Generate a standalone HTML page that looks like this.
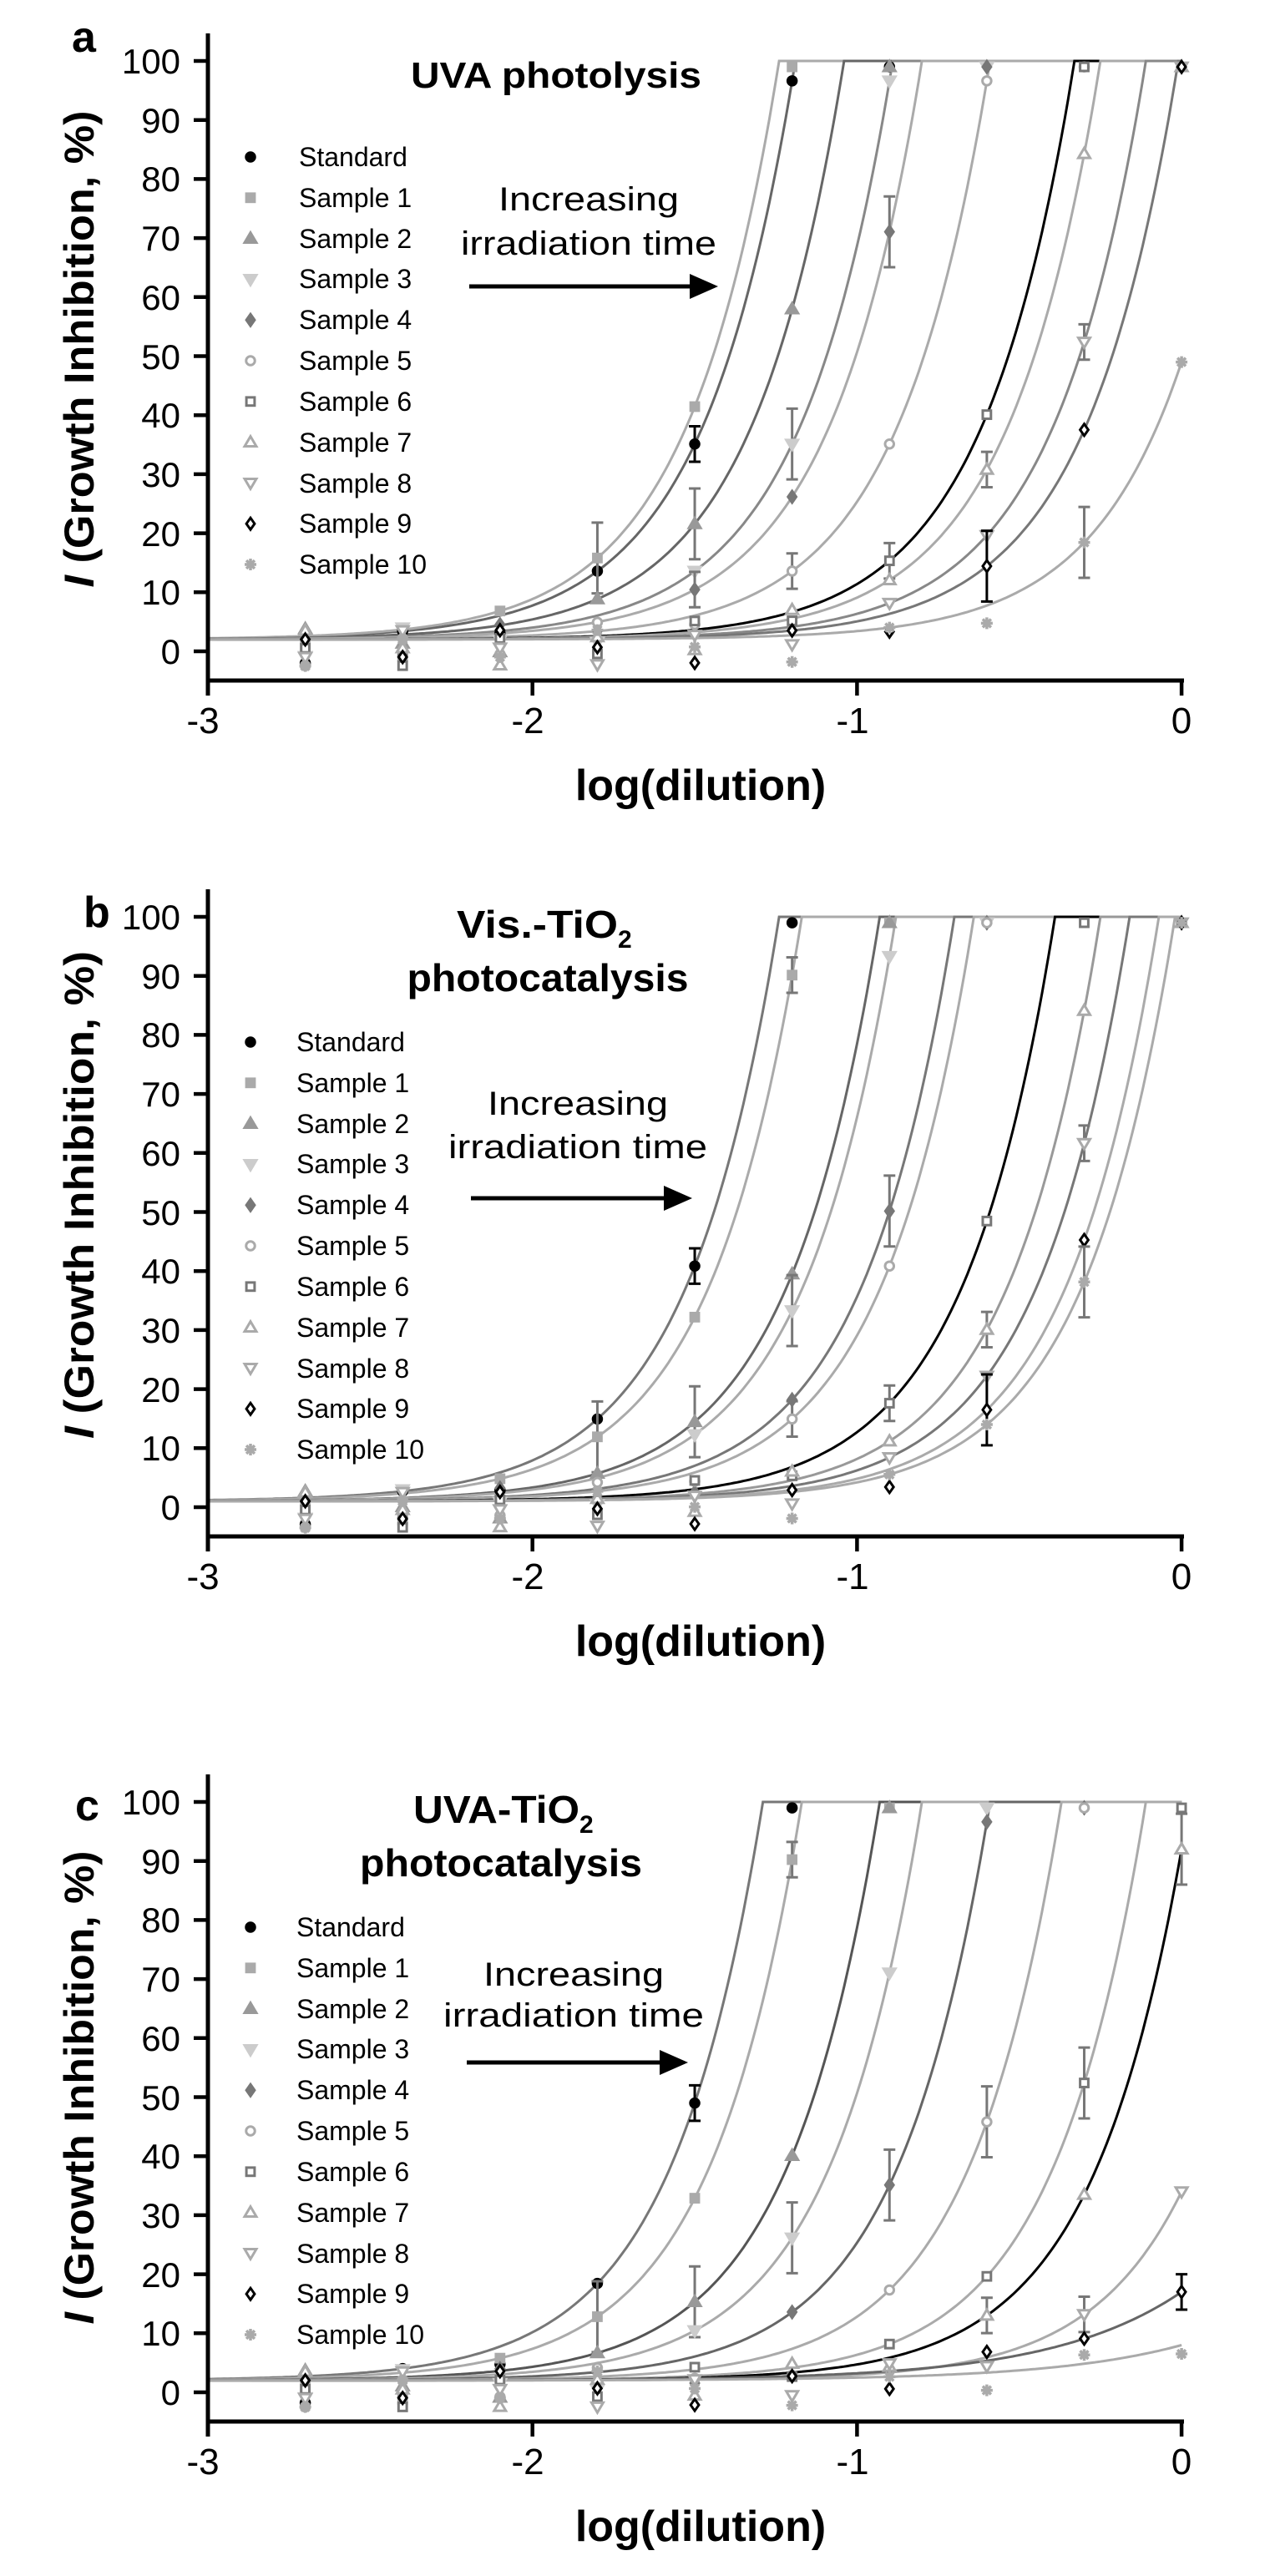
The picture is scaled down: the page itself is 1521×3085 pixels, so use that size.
<!DOCTYPE html>
<html><head><meta charset="utf-8"><style>
html,body{margin:0;padding:0;background:#fff;}
svg{display:block;}
text{font-family:"Liberation Sans",Arial,sans-serif;}
</style></head><body>
<svg id="s" width="1521" height="3085" viewBox="0 0 1521 3085" xmlns="http://www.w3.org/2000/svg">
<rect width="1521" height="3085" fill="#fff"/>
<g id="plots"></g>
<!-- Panel a texts -->
<g>
<text x="86" y="62" font-size="52" font-weight="bold">a</text>
<text x="492" y="105" font-size="44" font-weight="bold" textLength="348" lengthAdjust="spacingAndGlyphs">UVA photolysis</text>
<text x="705" y="252" font-size="40" text-anchor="middle" textLength="216" lengthAdjust="spacingAndGlyphs">Increasing</text>
<text x="705" y="305" font-size="40" text-anchor="middle" textLength="306" lengthAdjust="spacingAndGlyphs">irradiation time</text>
<text transform="translate(112,418) rotate(-90)" font-size="50" font-weight="bold" text-anchor="middle" textLength="571" lengthAdjust="spacingAndGlyphs"><tspan font-style="italic">I</tspan> (Growth Inhibition, %)</text>
<text x="839" y="958" font-size="52" font-weight="bold" text-anchor="middle">log(dilution)</text>
</g>
<!-- Panel b texts -->
<g>
<text x="100" y="1110" font-size="52" font-weight="bold">b</text>
<text x="547" y="1123" font-size="46" font-weight="bold" textLength="193" lengthAdjust="spacingAndGlyphs">Vis.-TiO</text>
<text x="740" y="1135" font-size="30" font-weight="bold">2</text>
<text x="656" y="1187" font-size="46" font-weight="bold" text-anchor="middle" textLength="337" lengthAdjust="spacingAndGlyphs">photocatalysis</text>
<text x="692" y="1335" font-size="40" text-anchor="middle" textLength="216" lengthAdjust="spacingAndGlyphs">Increasing</text>
<text x="692" y="1387" font-size="40" text-anchor="middle" textLength="310" lengthAdjust="spacingAndGlyphs">irradiation time</text>
<text transform="translate(112,1431) rotate(-90)" font-size="50" font-weight="bold" text-anchor="middle" textLength="584" lengthAdjust="spacingAndGlyphs"><tspan font-style="italic">I</tspan> (Growth Inhibition, %)</text>
<text x="839" y="1983" font-size="52" font-weight="bold" text-anchor="middle">log(dilution)</text>
</g>
<!-- Panel c texts -->
<g>
<text x="90" y="2180" font-size="52" font-weight="bold">c</text>
<text x="495" y="2183" font-size="46" font-weight="bold" textLength="199" lengthAdjust="spacingAndGlyphs">UVA-TiO</text>
<text x="694" y="2195" font-size="30" font-weight="bold">2</text>
<text x="600" y="2247" font-size="46" font-weight="bold" text-anchor="middle" textLength="338" lengthAdjust="spacingAndGlyphs">photocatalysis</text>
<text x="687" y="2378" font-size="40" text-anchor="middle" textLength="216" lengthAdjust="spacingAndGlyphs">Increasing</text>
<text x="687" y="2427" font-size="40" text-anchor="middle" textLength="312" lengthAdjust="spacingAndGlyphs">irradiation time</text>
<text transform="translate(112,2500) rotate(-90)" font-size="50" font-weight="bold" text-anchor="middle" textLength="567" lengthAdjust="spacingAndGlyphs"><tspan font-style="italic">I</tspan> (Growth Inhibition, %)</text>
<text x="839" y="3043" font-size="52" font-weight="bold" text-anchor="middle">log(dilution)</text>
</g>
<!-- tick labels (static) -->
<g font-size="42" text-anchor="end">
<text x="216" y="88">100</text><text x="216" y="159">90</text><text x="216" y="229">80</text><text x="216" y="300">70</text><text x="216" y="371">60</text><text x="216" y="442">50</text><text x="216" y="512">40</text><text x="216" y="583">30</text><text x="216" y="654">20</text><text x="216" y="724">10</text><text x="216" y="795">0</text>
<text x="216" y="1113">100</text><text x="216" y="1184">90</text><text x="216" y="1254">80</text><text x="216" y="1325">70</text><text x="216" y="1396">60</text><text x="216" y="1467">50</text><text x="216" y="1537">40</text><text x="216" y="1608">30</text><text x="216" y="1679">20</text><text x="216" y="1749">10</text><text x="216" y="1820">0</text>
<text x="216" y="2173">100</text><text x="216" y="2244">90</text><text x="216" y="2314">80</text><text x="216" y="2385">70</text><text x="216" y="2456">60</text><text x="216" y="2527">50</text><text x="216" y="2597">40</text><text x="216" y="2668">30</text><text x="216" y="2739">20</text><text x="216" y="2809">10</text><text x="216" y="2880">0</text>
</g>
<g font-size="44" text-anchor="middle">
<text x="243" y="878">-3</text><text x="632" y="878">-2</text><text x="1021" y="878">-1</text><text x="1415" y="878">0</text>
<text x="243" y="1903">-3</text><text x="632" y="1903">-2</text><text x="1021" y="1903">-1</text><text x="1415" y="1903">0</text>
<text x="243" y="2963">-3</text><text x="632" y="2963">-2</text><text x="1021" y="2963">-1</text><text x="1415" y="2963">0</text>
</g>
<!-- legends -->
<g font-size="32">
<text x="358" y="199">Standard</text><text x="358" y="248">Sample 1</text><text x="358" y="297">Sample 2</text><text x="358" y="345">Sample 3</text><text x="358" y="394">Sample 4</text><text x="358" y="443">Sample 5</text><text x="358" y="492">Sample 6</text><text x="358" y="541">Sample 7</text><text x="358" y="590">Sample 8</text><text x="358" y="638">Sample 9</text><text x="358" y="687">Sample 10</text>
<text x="355" y="1259">Standard</text><text x="355" y="1308">Sample 1</text><text x="355" y="1357">Sample 2</text><text x="355" y="1405">Sample 3</text><text x="355" y="1454">Sample 4</text><text x="355" y="1503">Sample 5</text><text x="355" y="1552">Sample 6</text><text x="355" y="1601">Sample 7</text><text x="355" y="1650">Sample 8</text><text x="355" y="1698">Sample 9</text><text x="355" y="1747">Sample 10</text>
<text x="355" y="2319">Standard</text><text x="355" y="2368">Sample 1</text><text x="355" y="2417">Sample 2</text><text x="355" y="2465">Sample 3</text><text x="355" y="2514">Sample 4</text><text x="355" y="2563">Sample 5</text><text x="355" y="2612">Sample 6</text><text x="355" y="2661">Sample 7</text><text x="355" y="2710">Sample 8</text><text x="355" y="2758">Sample 9</text><text x="355" y="2807">Sample 10</text>
</g>
</svg>
<script>
(function(){
var NS="http://www.w3.org/2000/svg";
var G=document.getElementById("plots");
function el(t,a){var e=document.createElementNS(NS,t);for(var k in a)e.setAttribute(k,a[k]);G.appendChild(e);return e;}
var MK=[
 {t:'circle',f:1,c:'#000'},{t:'square',f:1,c:'#aaa'},{t:'tri',f:1,c:'#999'},{t:'dtri',f:1,c:'#ccc'},
 {t:'diam',f:1,c:'#777'},{t:'circle',f:0,c:'#aaa'},{t:'square',f:0,c:'#777'},{t:'tri',f:0,c:'#aaa'},
 {t:'dtri',f:0,c:'#aaa'},{t:'diam',f:0,c:'#000'},{t:'star',f:0,c:'#aaa'}];
function marker(m,x,y,s){
 var fill=m.f?m.c:'#fff', st={stroke:m.c,'stroke-width':3,fill:fill};
 var p;
 if(m.t=='circle'){st.cx=x;st.cy=y;st.r=s*0.75;el('circle',st);return;}
 if(m.t=='square'){st.x=x-s*0.7;st.y=y-s*0.7;st.width=s*1.4;st.height=s*1.4;el('rect',st);return;}
 if(m.t=='tri')p=[[x,y-s],[x+s,y+s*0.7],[x-s,y+s*0.7]];
 if(m.t=='dtri')p=[[x,y+s],[x+s,y-s*0.7],[x-s,y-s*0.7]];
 if(m.t=='diam')p=[[x,y-s],[x+s*0.7,y],[x,y+s],[x-s*0.7,y]];
 if(m.t=='star'){var d='';for(var i=0;i<4;i++){var a=i*Math.PI/4;d+='M'+(x-s*Math.cos(a))+' '+(y-s*Math.sin(a))+'L'+(x+s*Math.cos(a))+' '+(y+s*Math.sin(a));}
   el('path',{d:d,stroke:m.c,'stroke-width':3.5,fill:'none'});return;}
 st.points=p.map(function(q){return q.join(',')}).join(' ');el('polygon',st);
}
var panels=[
 {off:0,b:2,leg:188,cv:[[-1.19,'#666'],[-1.24,'#aaa'],[-1.04,'#666'],[-0.89,'#888'],[-0.80,'#aaa'],[-0.59,'#aaa'],[-0.33,'#000'],[-0.25,'#aaa'],[-0.11,'#888'],[-0.01,'#777'],[null,'#aaa',49,3.5]]},
 {off:1025,b:1,leg:1248,cv:[[-1.24,'#777'],[-1.17,'#aaa'],[-0.93,'#666'],[-0.88,'#aaa'],[-0.70,'#777'],[-0.64,'#aaa'],[-0.39,'#000'],[-0.25,'#999'],[-0.16,'#777'],[-0.07,'#aaa'],[-0.02,'#aaa']]},
 {off:2085,b:2,leg:2308,cv:[[-1.29,'#777'],[-1.17,'#aaa'],[-0.93,'#555'],[-0.80,'#aaa'],[-0.59,'#666'],[-0.37,'#aaa'],[-0.11,'#aaa'],[null,'#000',92,3.5],[null,'#aaa',34,3.5],[null,'#666',17,2.5],[null,'#aaa',8,2.5]]}
];
var K=3.5;
panels.forEach(function(P){
 var off=P.off;
 function X(x){return 249+388.7*(x+3);}
 function Y(v){return off+780-7.07*v;}
 // curves
 P.cv.forEach(function(c,ci){
  function f(x){ if(c[0]===null) return P.b+(c[2]-P.b)*Math.exp(c[3]*x);
    return Math.min(100,P.b+(100-P.b)*Math.exp(K*(x-c[0])));}
  var d='';for(var x=-3;x<=0.0001;x+=0.01){d+=(d?'L':'M')+X(x).toFixed(1)+' '+Y(f(x)).toFixed(1);}
  el('path',{d:d,stroke:c[1],'stroke-width':3,fill:'none'});
  c.f=f;
 });
 // markers
 P.cv.forEach(function(c,ci){
  var m=MK[ci];
  var crossed=false;
  for(var j=0;j<10;j++){
   var x=-2.7+0.3*j; var v=c.f(x);
   if(v>=99.9){ if(crossed) continue; crossed=true; v=99;}
   var n=(((ci*7+j*3)%5)-2)*1.5; if(v<8) v=v+n-1.5;
   var px=X(x),py=Y(v);
   if(v>10&&v<95&&((ci+j)%2==0)){var e=3+((ci*3+j)%4)*1.5;
     var d='M'+px+' '+Y(v-e)+'L'+px+' '+Y(v+e)+'M'+(px-7)+' '+Y(v-e)+'L'+(px+7)+' '+Y(v-e)+'M'+(px-7)+' '+Y(v+e)+'L'+(px+7)+' '+Y(v+e);
     el('path',{d:d,stroke:m.c=='#000'?'#000':'#777','stroke-width':3,fill:'none'});}
   marker(m,px,py,7);
  }
  marker(m,300,P.leg+48.8*ci,7);
 });
 // axes
 el('path',{d:'M249 '+(off+40)+'L249 '+(off+833)+'M247 '+(off+815)+'L1418 '+(off+815),stroke:'#000','stroke-width':5,fill:'none'});
 var d='';
 for(var v=0;v<=100;v+=10){d+='M232 '+Y(v)+'L249 '+Y(v);}
 [-2,-1,0].forEach(function(x){d+='M'+X(x)+' '+(off+815)+'L'+X(x)+' '+(off+833);});
 el('path',{d:d,stroke:'#000','stroke-width':4.5,fill:'none'});
});
// arrows
[[0,343,562,860],[0,1435,564,829],[0,2470,559,824]].forEach(function(a){
 el('path',{d:'M'+a[2]+' '+a[1]+'L'+(a[3]-32)+' '+a[1],stroke:'#000','stroke-width':5,fill:'none'});
 el('polygon',{points:(a[3]-34)+','+(a[1]-15)+' '+a[3]+','+a[1]+' '+(a[3]-34)+','+(a[1]+15),fill:'#000'});
});
})();
</script>
</body></html>
